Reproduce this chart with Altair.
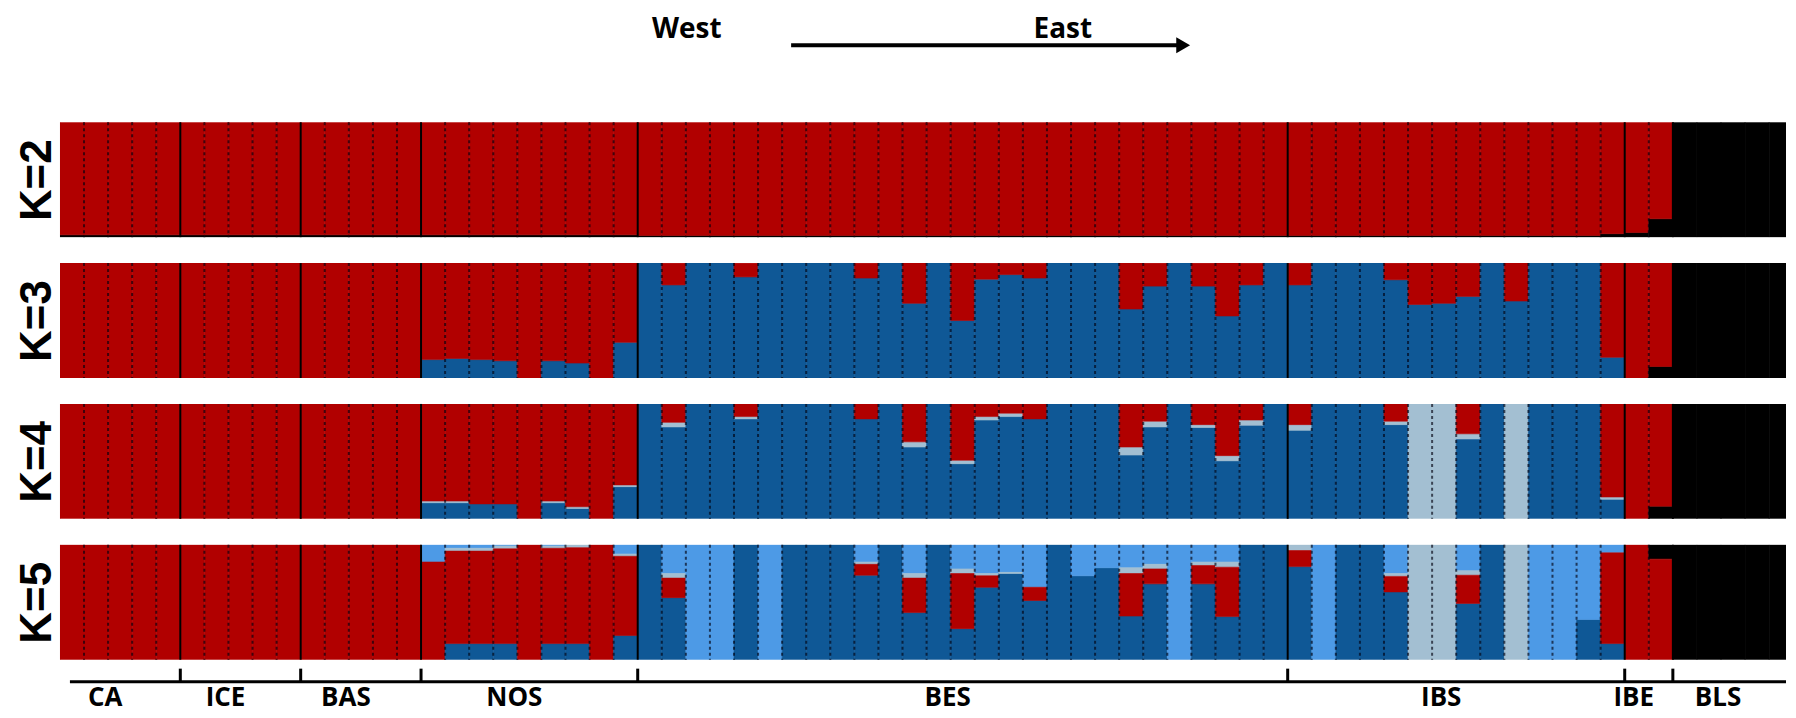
import altair as alt
import pandas as pd

# ---------------- data ----------------
pops = ["CA", "ICE", "BAS", "NOS", "BES", "IBS", "IBE", "BLS"]
counts = [5, 5, 5, 9, 27, 14, 2, 5]
k_labels = ["K=2", "K=3", "K=4", "K=5"]

# K=2 : black cluster (rest red)
K2_black = ([0.02] * 24 + [0.015] * 27 + [0.015] * 13 + [0.03]
            + [0.04, 0.16] + [1.0] * 5)

# K=3 : dark blue and black (rest red)
K3_blue = ([0.0] * 15
           + [0.16, 0.17, 0.16, 0.15, 0.0, 0.15, 0.13, 0.0, 0.31]
           + [1, 0.81, 1, 1, 0.88, 1, 1, 1, 1, 0.87, 1, 0.65, 1, 0.5, 0.86,
              0.9, 0.87, 1, 1, 1, 0.6, 0.8, 1, 0.8, 0.54, 0.81, 1]
           + [0.81, 1, 1, 1, 0.855, 0.64, 0.65, 0.71, 1, 0.67, 1, 1, 1, 0.18]
           + [0.0, 0.0] + [0.0] * 5)
K3_black = [0.0] * 65 + [0.0, 0.10] + [1.0] * 5

# K=4 : dark blue, pale, black (rest red)
K4_blue = ([0.0] * 15
           + [0.14, 0.14, 0.13, 0.13, 0.0, 0.14, 0.09, 0.0, 0.28]
           + [1, 0.80, 1, 1, 0.87, 1, 1, 1, 1, 0.87, 1, 0.625, 1, 0.48, 0.86,
              0.89, 0.87, 1, 1, 1, 0.555, 0.80, 1, 0.795, 0.505, 0.815, 1]
           + [0.77, 1, 1, 1, 0.82, 0, 0, 0.695, 1, 0, 1, 1, 1, 0.17]
           + [0.0, 0.0] + [0.0] * 5)
K4_pale = ([0.0] * 15
           + [0.015, 0.015, 0, 0, 0, 0.015, 0.015, 0, 0.015]
           + [0, 0.04, 0, 0, 0.02, 0, 0, 0, 0, 0, 0, 0.045, 0, 0.03, 0.03,
              0.03, 0, 0, 0, 0, 0.07, 0.05, 0, 0.025, 0.045, 0.045, 0]
           + [0.05, 0, 0, 0, 0.03, 1, 1, 0.045, 0, 1, 0, 0, 0, 0.02]
           + [0.0, 0.0] + [0.0] * 5)
K4_black = [0.0] * 65 + [0.0, 0.11] + [1.0] * 5

# K=5 : dark blue, light blue, pale, black (rest red)
K5_blue = ([0.0] * 15
           + [0, 0.14, 0.14, 0.14, 0, 0.14, 0.14, 0, 0.21]
           + [1, 0.54, 0, 0, 1, 0, 1, 1, 1, 0.735, 1, 0.41, 1, 0.27, 0.63,
              0.75, 0.515, 1, 0.73, 0.8, 0.38, 0.66, 0, 0.66, 0.375, 1, 1]
           + [0.81, 0, 1, 1, 0.59, 0, 0, 0.49, 1, 0, 0, 0, 0.35, 0.14]
           + [0.0, 0.0] + [0.0] * 5)
K5_lblue = ([0.0] * 15
            + [0.15, 0.03, 0.03, 0.01, 0, 0.01, 0, 0, 0.08]
            + [0, 0.25, 1, 1, 0, 1, 0, 0, 0, 0.15, 0, 0.25, 0, 0.21, 0.25,
               0.24, 0.37, 0, 0.27, 0.2, 0.2, 0.17, 1, 0.15, 0.15, 0, 0]
            + [0, 1, 0, 0, 0.25, 0, 0, 0.225, 0, 0, 1, 1, 0.65, 0.07]
            + [0.0, 0.0] + [0.0] * 5)
K5_pale = ([0.0] * 15
           + [0, 0.025, 0.025, 0.025, 0, 0.02, 0.025, 0, 0.02]
           + [0, 0.04, 0, 0, 0, 0, 0, 0, 0, 0.02, 0, 0.04, 0, 0.04, 0.02,
              0.01, 0, 0, 0, 0, 0.05, 0.04, 0, 0.03, 0.045, 0, 0]
           + [0.05, 0, 0, 0, 0.025, 1, 1, 0.04, 0, 1, 0, 0, 0, 0]
           + [0.0, 0.0] + [0.0] * 5)
K5_black = [0.0] * 65 + [0.0, 0.125] + [1.0] * 5

# stacking order (bottom -> top) for each K
orders = {
    "K=2": ["black", "red"],
    "K=3": ["black", "dblue", "red"],
    "K=4": ["black", "dblue", "pale", "red"],
    "K=5": ["dblue", "red", "pale", "lblue", "black"],
}
components = {
    "K=2": {"black": K2_black},
    "K=3": {"dblue": K3_blue, "black": K3_black},
    "K=4": {"dblue": K4_blue, "pale": K4_pale, "black": K4_black},
    "K=5": {"dblue": K5_blue, "lblue": K5_lblue, "pale": K5_pale, "black": K5_black},
}

n_ind = sum(counts)
rows = []
for k in k_labels:
    comp = components[k]
    for i in range(n_ind):
        vals = {c: comp[c][i] for c in comp}
        vals["red"] = max(0.0, 1.0 - sum(vals.values()))
        for c, v in vals.items():
            if v > 0:
                rows.append({"K": k, "ind": i, "x0": i, "x1": i + 1,
                             "cluster": c, "value": v,
                             "ord": orders[k].index(c)})
df = pd.DataFrame(rows)

# population boundaries
bounds = []
s = 0
pop_rows = []
for p, c in zip(pops, counts):
    pop_rows.append({"pop": p, "start": s, "end": s + c})
    s += c
    bounds.append(s)
pop_df = pd.DataFrame(pop_rows)
solid_df = pd.DataFrame({"pos": bounds[:-1]})
blsi = pop_rows[-1]["start"]
dash_df = pd.DataFrame({"pos": [i for i in range(1, blsi) if i not in bounds]})

# ---------------- styling ----------------
W = 1728
H = 115
xs = alt.Scale(domain=[0, 71.7], nice=False, zero=False)
cscale = alt.Scale(domain=["red", "dblue", "lblue", "pale", "black"],
                   range=["#B10000", "#0F5896", "#4D9AE6", "#A3BFD2", "#000000"])


def panel(k):
    bars = alt.Chart(df[df.K == k]).mark_bar(clip=True, strokeWidth=0.6).encode(
        x=alt.X("x0:Q", scale=xs, axis=None),
        x2="x1:Q",
        y=alt.Y("y0:Q", scale=alt.Scale(domain=[0, 1], nice=False),
                axis=alt.Axis(title=k, labels=False, ticks=False, domain=False,
                              grid=False, titleFontSize=44,
                              titleFont="Liberation Sans", titleFontWeight="bold",
                              titleColor="black", titlePadding=0)),
        y2="y1:Q",
        color=alt.Color("cluster:N", scale=cscale, legend=None),
        stroke=alt.Color("cluster:N", scale=cscale, legend=None),
    ).transform_stack(stack="value", groupby=["ind"],
                      sort=[alt.SortField("ord", order="ascending")],
                      as_=["y0", "y1"])
    dash = alt.Chart(dash_df).mark_rule(strokeDash=[3, 3], strokeWidth=2,
                                        color="#000010", opacity=0.65).encode(
        x=alt.X("pos:Q", scale=xs, axis=None))
    solid = alt.Chart(solid_df).mark_rule(strokeWidth=2, color="black").encode(
        x=alt.X("pos:Q", scale=xs, axis=None))
    return alt.layer(bars, dash, solid).properties(width=W, height=H)


one = alt.Data(values=[{}])
west = alt.Chart(one).mark_text(text="West", font="Open Sans", fontWeight="bold",
                                fontSize=28, baseline="alphabetic",
                                align="center", color="black").encode(
    x=alt.value(627.5), y=alt.value(30))
east = alt.Chart(one).mark_text(text="East", font="Open Sans", fontWeight="bold",
                                fontSize=28, baseline="alphabetic",
                                align="center", color="black").encode(
    x=alt.value(1004), y=alt.value(30))
arrow_line = alt.Chart(one).mark_rule(strokeWidth=4, color="black").encode(
    x=alt.value(732), x2=alt.value(1120), y=alt.value(37))
arrow_head = alt.Chart(one).mark_point(shape="triangle-right", filled=True,
                                       size=256, color="black", opacity=1).encode(
    x=alt.value(1124.5), y=alt.value(37))
top = alt.layer(west, east, arrow_line, arrow_head).properties(width=W, height=88)

axis_line = alt.Chart(one).mark_rule(strokeWidth=3, color="black").encode(
    x=alt.value(10), x2=alt.value(W), y=alt.value(-4))
ticks = alt.Chart(solid_df).mark_rule(strokeWidth=3, color="black").encode(
    x=alt.X("pos:Q", scale=xs, axis=None), y=alt.value(-17), y2=alt.value(-4))
labels = alt.Chart(pop_df).mark_text(font="Open Sans", fontWeight="bold",
                                     fontSize=26, baseline="alphabetic",
                                     dx=-15, color="black").encode(
    x=alt.X("mid:Q", scale=xs, axis=None), y=alt.value(20), text="pop:N"
).transform_calculate(mid="(datum.start + datum.end) / 2")
bottom = alt.layer(axis_line, ticks, labels).properties(width=W, height=28)

chart = alt.vconcat(top, *[panel(k) for k in k_labels], bottom,
                    spacing=26, bounds="flush").properties(
    padding={"left": 8, "top": 0, "right": 0, "bottom": 0}
).configure_view(strokeWidth=0, fill="white")

chart.save("out.html", embed_options={"renderer": "svg", "actions": False})
